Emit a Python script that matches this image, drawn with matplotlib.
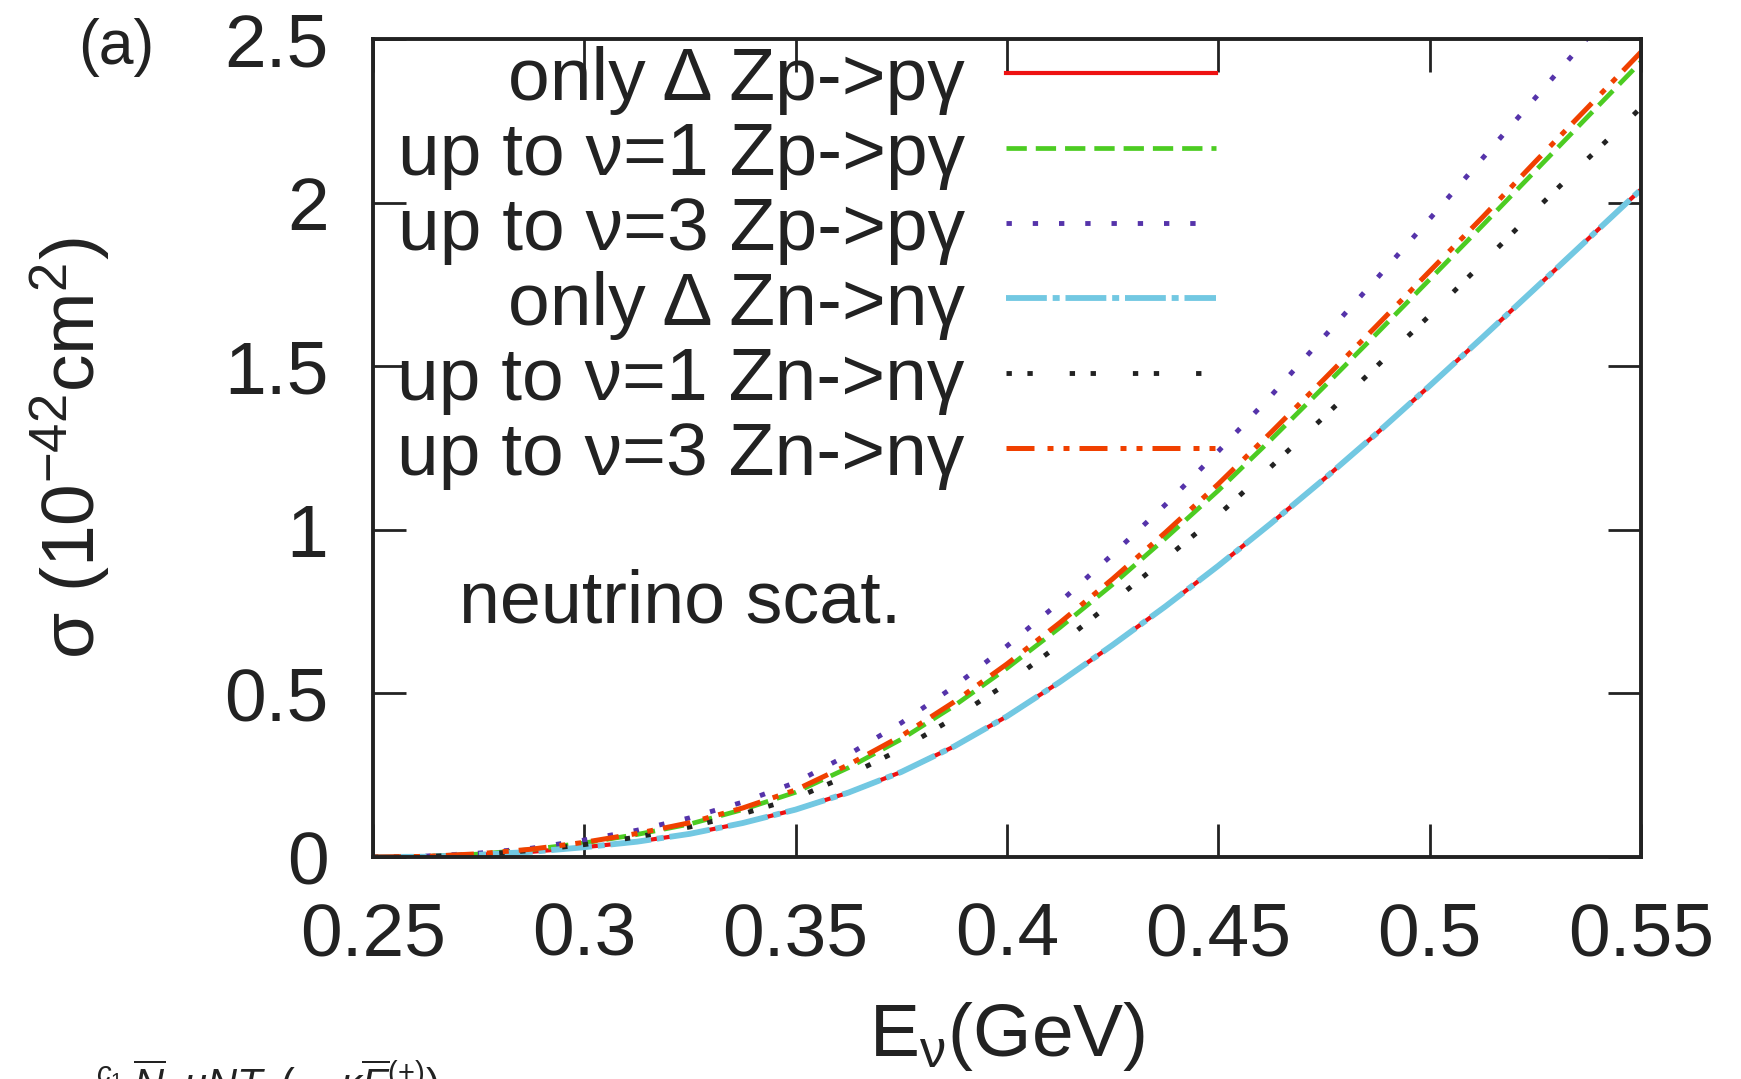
import matplotlib
matplotlib.use('Agg')
import matplotlib.pyplot as plt

plt.rcParams['font.family'] = ['Liberation Sans', 'DejaVu Sans']
plt.rcParams['mathtext.fontset'] = 'custom'
plt.rcParams['mathtext.rm'] = 'Liberation Sans'
plt.rcParams['mathtext.it'] = 'Liberation Sans:italic'
plt.rcParams['mathtext.bf'] = 'Liberation Sans:bold'

# neutrino energy (GeV)
energy = [0.25, 0.2625, 0.275, 0.2875, 0.3, 0.3125, 0.325, 0.3375, 0.35, 0.3625, 0.375, 0.3875,
          0.4, 0.4125, 0.425, 0.4375, 0.45, 0.4625, 0.475, 0.4875, 0.5, 0.5125, 0.525, 0.5375, 0.55]

# cross sections, 10^-42 cm^2
only_delta_p = [0.0, 0.001, 0.007, 0.016, 0.030, 0.047, 0.071, 0.104, 0.145, 0.197, 0.260, 0.338,
                0.430, 0.535, 0.648, 0.766, 0.890, 1.020, 1.155, 1.295, 1.440, 1.588, 1.738, 1.889, 2.040]
nu1_p = [0.0, 0.002, 0.009, 0.023, 0.043, 0.069, 0.101, 0.145, 0.198, 0.273, 0.360, 0.462,
         0.577, 0.701, 0.833, 0.974, 1.120, 1.276, 1.437, 1.600, 1.765, 1.930, 2.097, 2.264, 2.430]
nu3_p = [0.0, 0.003, 0.012, 0.027, 0.052, 0.082, 0.120, 0.168, 0.228, 0.313, 0.410, 0.521,
         0.645, 0.779, 0.925, 1.077, 1.240, 1.410, 1.590, 1.768, 1.950, 2.135, 2.320, 2.505, 2.690]
only_delta_n = [0.0, 0.001, 0.007, 0.016, 0.030, 0.047, 0.071, 0.104, 0.145, 0.197, 0.260, 0.338,
                0.430, 0.535, 0.648, 0.766, 0.890, 1.020, 1.155, 1.295, 1.440, 1.588, 1.738, 1.889, 2.040]
nu1_n = [0.0, 0.002, 0.008, 0.020, 0.038, 0.061, 0.092, 0.132, 0.180, 0.250, 0.330, 0.425,
         0.530, 0.650, 0.780, 0.912, 1.045, 1.193, 1.345, 1.500, 1.655, 1.815, 1.977, 2.135, 2.290]
nu3_n = [0.0, 0.002, 0.010, 0.024, 0.045, 0.072, 0.105, 0.150, 0.205, 0.282, 0.370, 0.474,
         0.590, 0.716, 0.850, 0.992, 1.140, 1.298, 1.460, 1.624, 1.790, 1.955, 2.125, 2.292, 2.460]

xticks = [0.25, 0.3, 0.35, 0.4, 0.45, 0.5, 0.55]
xtick_labels = ['0.25', '0.3', '0.35', '0.4', '0.45', '0.5', '0.55']
yticks = [0, 0.5, 1, 1.5, 2, 2.5]
ytick_labels = ['0', '0.5', '1', '1.5', '2', '2.5']

fs = 54
dark = '#222222'

fig = plt.figure(figsize=(17.41, 10.79), dpi=100)
ax = fig.add_axes([0.2142, 0.2057, 0.7283, 0.7581])

ax.plot(energy, only_delta_p, color='#ee1111', lw=3, ls='-', label='only Δ Zp->pγ')
ax.plot(energy, nu1_p, color='#4ccc22', lw=3.4, ls=(0, (4.3, 1.9)), label='up to ν=1 Zp->pγ')
ax.plot(energy, nu3_p, color='#5533aa', lw=3.5, ls=(0, (1.1, 4.3)), label='up to ν=3 Zp->pγ')
ax.plot(energy, only_delta_n, color='#72c8e2', lw=4.2, ls=(0, (7.0, 1, 1.2, 1)), label='only Δ Zn->nγ')
ax.plot(energy, nu1_n, color=dark, lw=3.5, ls=(0, (1.1, 3.2, 1.1, 7.6)), label='up to ν=1 Zn->nγ')
ax.plot(energy, nu3_n, color='#f04000', lw=3.6, ls=(0, (5.6, 2.6, 1.2, 2.0, 1.2, 2.0)),
        label='up to ν=3 Zn->nγ')

ax.set_xlim(0.25, 0.55)
ax.set_ylim(0, 2.5)
ax.set_xticks(xticks)
ax.set_xticklabels(xtick_labels)
ax.set_yticks(yticks)
ax.set_yticklabels(ytick_labels)
ax.tick_params(direction='in', length=24, width=2, top=True, right=True,
               labelsize=fs, pad=32, color=dark, labelcolor=dark)
for sp in ax.spines.values():
    sp.set_linewidth(2.8)
    sp.set_color(dark)

ax.set_xlabel('E$_{\\mathregular{ν}}$(GeV)', fontsize=54, color=dark)
ax.xaxis.set_label_coords(0.5, -0.175)
ax.set_ylabel('σ (10$^{\\mathregular{-42}}$cm$^{\\mathregular{2}}$)', fontsize=54, color=dark)
ax.yaxis.set_label_coords(-0.205, 0.5)

leg = ax.legend(loc='upper right', bbox_to_anchor=(0.665, 0.992), frameon=False,
                markerfirst=False, fontsize=fs, handlelength=2.8, handletextpad=0.55,
                labelspacing=0.08, borderpad=0, borderaxespad=0)
for t in leg.get_texts():
    t.set_color(dark)

ax.text(0.068, 0.287, 'neutrino scat.', transform=ax.transAxes, fontsize=53,
        color=dark, ha='left', va='baseline')

fig.text(0.045, 0.956, '(a)', fontsize=45, color=dark, ha='left', va='center')
# clipped line of the page text below the figure
fig.text(0.055, 0.0195, r'$^{c_1}\;\overline{N}\;\;\mu N T\;\;(\sim\kappa\overline{F}^{(+)})$',
         fontsize=30, color=dark, ha='left', va='top')

fig.savefig('out.png', dpi=100)
